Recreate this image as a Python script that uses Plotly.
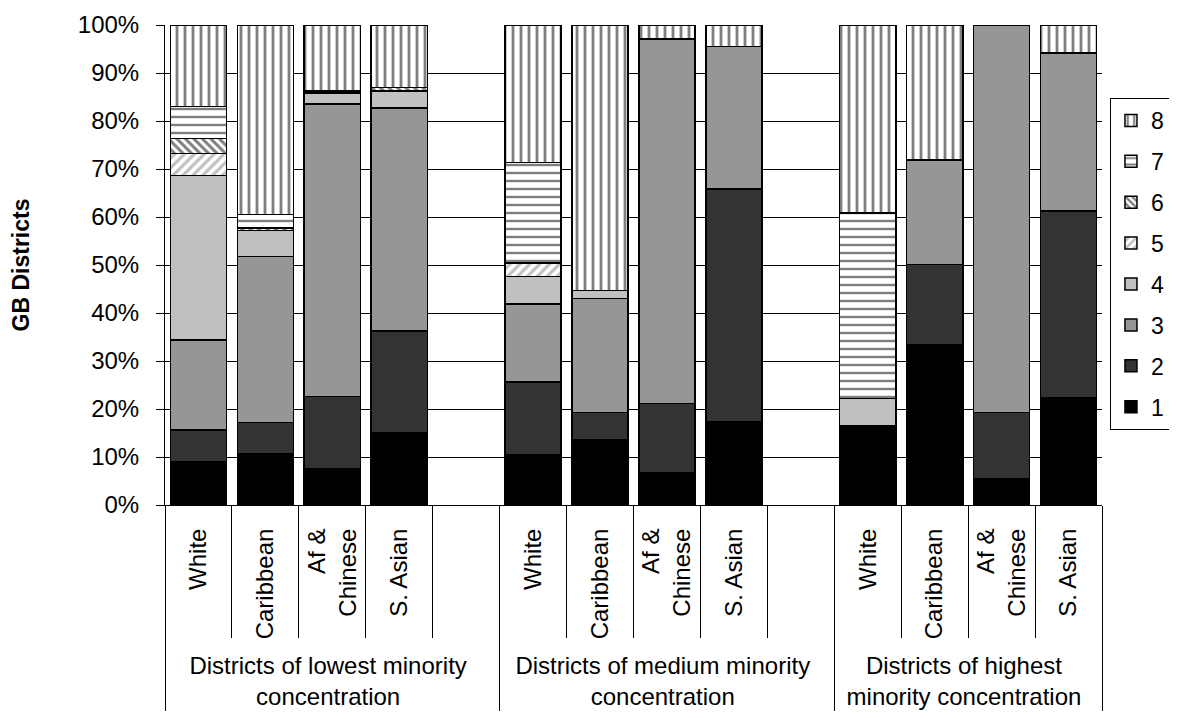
import plotly.graph_objects as go

# ---------------- data ----------------
groups = [
    "Districts of lowest minority<br>concentration",
    "Districts of medium minority<br>concentration",
    "Districts of highest<br>minority concentration",
]
ethnic = ["White", "Caribbean", "Af &<br>Chinese", "S. Asian"]
series_names = ["1", "2", "3", "4", "5", "6", "7", "8"]

# order: lowest (W, C, A, S), medium (W, C, A, S), highest (W, C, A, S)
s1 = [9.1, 10.7, 7.5, 15.0, 10.4, 13.6, 6.7, 17.4, 16.5, 33.4, 5.5, 22.3]
s2 = [6.5, 6.5, 15.1, 21.2, 15.2, 5.7, 14.4, 48.4, None, 16.7, 13.8, 39.0]
s3 = [18.8, 34.6, 60.9, 46.5, 16.3, 23.7, 76.0, 29.7, None, 21.8, 80.7, 32.9]
s4 = [34.2, 5.4, 2.3, 3.6, 5.7, 1.7, None, None, 5.7, None, None, None]
s5 = [4.6, None, None, None, 2.8, None, None, None, None, None, None, None]
s6 = [3.2, 0.5, 0.5, 0.7, None, None, None, None, None, None, None, None]
s7 = [6.6, 2.8, None, None, 21.0, None, None, None, 38.6, None, None, None]
s8 = [17.0, 39.5, 13.7, 13.0, 28.6, 55.3, 2.9, 4.5, 39.2, 28.1, None, 5.8]
series_values = [s1, s2, s3, s4, s5, s6, s7, s8]

y_tick_vals = list(range(0, 101, 10))
y_tick_text = [f"{v}%" for v in y_tick_vals]

# ---------------- styles ----------------
styles = [
    dict(color="#000000"),
    dict(color="#333333"),
    dict(color="#969696"),
    dict(color="#c0c0c0"),
    dict(color="#ffffff", pattern=dict(shape="/", fgcolor="#808080", bgcolor="#ffffff", size=7, solidity=0.45)),
    dict(color="#ffffff", pattern=dict(shape="\\", fgcolor="#000000", bgcolor="#ffffff", size=6, solidity=0.5)),
    dict(color="#ffffff", pattern=dict(shape="-", fgcolor="#000000", bgcolor="#ffffff", size=8, solidity=0.3)),
    dict(color="#ffffff", pattern=dict(shape="|", fgcolor="#000000", bgcolor="#ffffff", size=8, solidity=0.35)),
]

# build multicategory x (with an empty slot after first two groups)
EMPTY = "\u00a0" * 17
outer, inner, slot_index = [], [], []
k = 0
for gi, g in enumerate(groups):
    for e in ethnic:
        outer.append(g)
        inner.append(e)
        slot_index.append(k)
        k += 1
    if gi < len(groups) - 1:
        outer.append(g)
        inner.append(EMPTY)
        slot_index.append(None)


def expand(vals):
    return [vals[i] if i is not None else None for i in slot_index]


fig = go.Figure()
n = len(series_names)
for i, (name, vals, st) in enumerate(zip(series_names, series_values, styles)):
    marker = dict(color=st["color"], line=dict(color="#000000", width=1.5))
    if "pattern" in st:
        marker["pattern"] = st["pattern"]
    fig.add_trace(go.Bar(
        x=[outer, inner], y=expand(vals), name=name, marker=marker,
        legendgroup=name, legendrank=n - i,
    ))

FONT = "Arial, Liberation Sans, sans-serif"
# page body has an 8px margin; figure is sized/offset to compensate
fig.update_layout(
    barmode="stack",
    bargap=0.16,
    width=1161, height=703,
    margin=dict(l=157, r=67, t=17, b=205.5, autoexpand=False),
    paper_bgcolor="white", plot_bgcolor="white",
    font=dict(family=FONT, size=24, color="black"),
    legend=dict(
        x=1.0085, xanchor="left", y=0.848, yanchor="top",
        traceorder="grouped", tracegroupgap=8,
        bordercolor="black", borderwidth=1, itemwidth=30,
        font=dict(size=23), bgcolor="white",
    ),
    xaxis=dict(
        type="multicategory", showdividers=True, dividercolor="black", dividerwidth=1,
        ticks="outside", ticklen=132, tickcolor="black", tickwidth=1,
        tickangle=-90, ticklabelstandoff=13,
        showline=True, linecolor="black", linewidth=1, showgrid=False,
        tickfont=dict(size=24), automargin=False,
    ),
    yaxis=dict(
        range=[0, 100], tickvals=y_tick_vals, ticktext=y_tick_text,
        showgrid=True, gridcolor="black", gridwidth=1,
        showline=True, linecolor="black", linewidth=1,
        ticks="outside", ticklen=8, tickcolor="black", ticklabelstandoff=12,
        tickfont=dict(size=24), automargin=False,
        title=dict(text="<b>GB Districts</b>", font=dict(size=23), standoff=50),
        zeroline=False,
    ),
)

fig.write_html("out.html")
